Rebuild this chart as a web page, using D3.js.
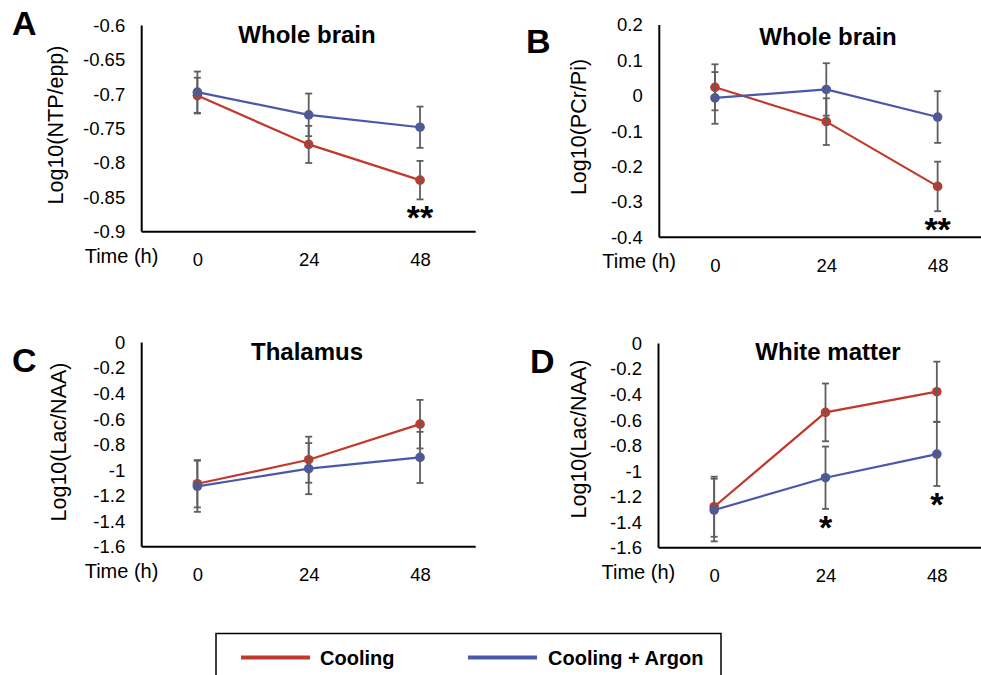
<!DOCTYPE html>
<meta charset="utf-8">
<style>
body{ margin:0; background:#fff; }
svg{ display:block; font-family:"Liberation Sans", Arial, Helvetica, sans-serif; }
.tick text{ fill:#000; }
</style>
<body>
<div id="chart"></div>
<script src="https://cdn.jsdelivr.net/npm/d3@7"></script>
<script>

// time points (x categories)
var times = ['0', '24', '48']

// A: Log10(NTP/epp), whole brain
var coolA = [-0.702, -0.773, -0.825]
var coolAErr = [0.026, 0.027, 0.028]
var argonA = [-0.697, -0.730, -0.748]
var argonAErr = [0.030, 0.031, 0.030]
var ticksA = [-0.9, -0.85, -0.8, -0.75, -0.7, -0.65, -0.6]

// B: Log10(PCr/Pi), whole brain
var coolB = [0.024, -0.073, -0.256]
var coolBErr = [0.065, 0.066, 0.070]
var argonB = [-0.006, 0.018, -0.060]
var argonBErr = [0.073, 0.074, 0.073]
var ticksB = [-0.4, -0.3, -0.2, -0.1, 0, 0.1, 0.2]

// C: Log10(Lac/NAA), thalamus
var coolC = [-1.105, -0.917, -0.639]
var coolCErr = [0.185, 0.180, 0.190]
var argonC = [-1.125, -0.987, -0.899]
var argonCErr = [0.200, 0.200, 0.200]
var ticksC = [-1.6, -1.4, -1.2, -1, -0.8, -0.6, -0.4, -0.2, 0]

// D: Log10(Lac/NAA), white matter
var coolD = [-1.277, -0.539, -0.377]
var coolDErr = [0.235, 0.226, 0.235]
var argonD = [-1.303, -1.050, -0.865]
var argonDErr = [0.245, 0.244, 0.250]
var ticksD = ticksC

var seriesNames = ['Cooling', 'Cooling + Argon']
var colors = ['#c0392d', '#4a58a9']
var errColor = '#5e5e5e'

// significance marks: [time, text]
var sigA = [['48', '**']]
var sigB = [['48', '**']]
var sigC = []
var sigD = [['24', '*'], ['48', '*']]

var panels = [
  {letter: 'A', title: 'Whole brain', ylab: 'Log10(NTP/epp)', cool: coolA, coolErr: coolAErr, argon: argonA, argonErr: argonAErr, ticks: ticksA, sig: sigA,
   x0: 141.7, top: 25.5, bot: 231.7, letterPos: [12, 35], titlePos: [307, 43], ylabPos: [55, 125], axisY: 231.7},
  {letter: 'B', title: 'Whole brain', ylab: 'Log10(PCr/Pi)', cool: coolB, coolErr: coolBErr, argon: argonB, argonErr: argonBErr, ticks: ticksB, sig: sigB,
   x0: 659.3, top: 25, bot: 237.4, letterPos: [526, 53], titlePos: [828, 45], ylabPos: [578, 127], axisY: 237.3},
  {letter: 'C', title: 'Thalamus', ylab: 'Log10(Lac/NAA)', cool: coolC, coolErr: coolCErr, argon: argonC, argonErr: argonCErr, ticks: ticksC, sig: sigC,
   x0: 141.7, top: 342.5, bot: 547, letterPos: [12, 372], titlePos: [307, 360], ylabPos: [58, 442], axisY: 546.7},
  {letter: 'D', title: 'White matter', ylab: 'Log10(Lac/NAA)', cool: coolD, coolErr: coolDErr, argon: argonD, argonErr: argonDErr, ticks: ticksD, sig: sigD,
   x0: 658.5, top: 343.5, bot: 548, letterPos: [530, 373], titlePos: [828, 360], ylabPos: [578, 439], axisY: 547.7}
]

var fmt = function(v){ return String(+v.toFixed(2)) }

var svg = d3.select('#chart').append('svg')
    .attr('width', 981).attr('height', 675)

panels.forEach(function(p){
  var g = svg.append('g')
  var x = d3.scalePoint().domain(times).range([p.x0, p.x0 + 334]).padding(0.5)
  var y = d3.scaleLinear().domain([p.ticks[0], p.ticks[p.ticks.length - 1]]).range([p.bot, p.top])

  // y axis
  var ya = g.append('g').attr('transform', 'translate(' + p.x0 + ',0)')
    .call(d3.axisLeft(y).tickValues(p.ticks).tickFormat(fmt).tickSize(0).tickPadding(16.5))
  ya.select('.domain').attr('stroke', '#000').attr('stroke-width', 2)
    .attr('d', 'M0,' + p.top + 'V' + p.axisY)
  ya.selectAll('text').attr('font-size', 18.5)

  // x axis
  var xa = g.append('g').attr('transform', 'translate(0,' + p.axisY + ')')
    .call(d3.axisBottom(x).tickSize(0).tickPadding(21.5))
  xa.select('.domain').attr('stroke', '#000').attr('stroke-width', 2)
    .attr('d', 'M' + p.x0 + ',0H' + (p.x0 + 334))
  xa.selectAll('text').attr('font-size', 18.5)

  g.append('text').attr('x', p.x0 - 57).attr('y', p.axisY + 31)
    .attr('font-size', 20).text('Time (h)')

  g.append('text')
    .attr('transform', 'translate(' + p.ylabPos[0] + ',' + p.ylabPos[1] + ') rotate(-90)')
    .attr('text-anchor', 'middle').attr('dy', '0.35em')
    .attr('font-size', 21.5).text(p.ylab)

  g.append('text').attr('x', p.titlePos[0]).attr('y', p.titlePos[1])
    .attr('text-anchor', 'middle').attr('font-weight', 'bold').attr('font-size', 24)
    .text(p.title)

  g.append('text').attr('x', p.letterPos[0]).attr('y', p.letterPos[1])
    .attr('font-weight', 'bold').attr('font-size', 34).text(p.letter)

  var series = [[p.cool, p.coolErr], [p.argon, p.argonErr]]
  var line = d3.line().x(function(d, i){ return x(times[i]) }).y(function(d){ return y(d) })

  series.forEach(function(s, si){
    var pts = s[0].map(function(v, i){ return {t: times[i], v: v, e: s[1][i]} })
    g.append('path').datum(s[0]).attr('d', line)
      .attr('fill', 'none').attr('stroke', colors[si]).attr('stroke-width', 2.2)
    g.selectAll(null).data(pts).enter().append('circle')
      .attr('cx', function(d){ return x(d.t) }).attr('cy', function(d){ return y(d.v) })
      .attr('r', 4.8).attr('fill', colors[si])
  })

  // error bars on top
  series.forEach(function(s){
    var pts = s[0].map(function(v, i){ return {t: times[i], v: v, e: s[1][i]} })
    var eb = g.selectAll(null).data(pts).enter().append('g')
      .attr('stroke', errColor).attr('stroke-width', 1.8)
    eb.append('line')
      .attr('x1', function(d){ return x(d.t) }).attr('x2', function(d){ return x(d.t) })
      .attr('y1', function(d){ return y(d.v + d.e) }).attr('y2', function(d){ return y(d.v - d.e) })
    ;[1, -1].forEach(function(sgn){
      eb.append('line')
        .attr('x1', function(d){ return x(d.t) - 3.5 }).attr('x2', function(d){ return x(d.t) + 3.5 })
        .attr('y1', function(d){ return y(d.v + sgn * d.e) }).attr('y2', function(d){ return y(d.v + sgn * d.e) })
    })
  })

  // significance asterisks under the lowest bar
  p.sig.forEach(function(m){
    var i = times.indexOf(m[0])
    var low = Math.min(p.cool[i] - p.coolErr[i], p.argon[i] - p.argonErr[i])
    g.append('text').attr('x', x(m[0])).attr('y', y(low) + 30)
      .attr('text-anchor', 'middle').attr('font-weight', 'bold').attr('font-size', 34)
      .text(m[1])
  })
})

// legend
var leg = svg.append('g')
leg.append('rect').attr('x', 216).attr('y', 633.5).attr('width', 505).attr('height', 80)
  .attr('fill', 'none').attr('stroke', '#000').attr('stroke-width', 1.5)
var legX = [[241, 310, 320], [468, 537, 548]]
seriesNames.forEach(function(n, i){
  leg.append('line').attr('x1', legX[i][0]).attr('x2', legX[i][1]).attr('y1', 657.5).attr('y2', 657.5)
    .attr('stroke', colors[i]).attr('stroke-width', 4)
  leg.append('text').attr('x', legX[i][2]).attr('y', 664.5)
    .attr('font-weight', 'bold').attr('font-size', 20).text(n)
})

</script>
</body>
